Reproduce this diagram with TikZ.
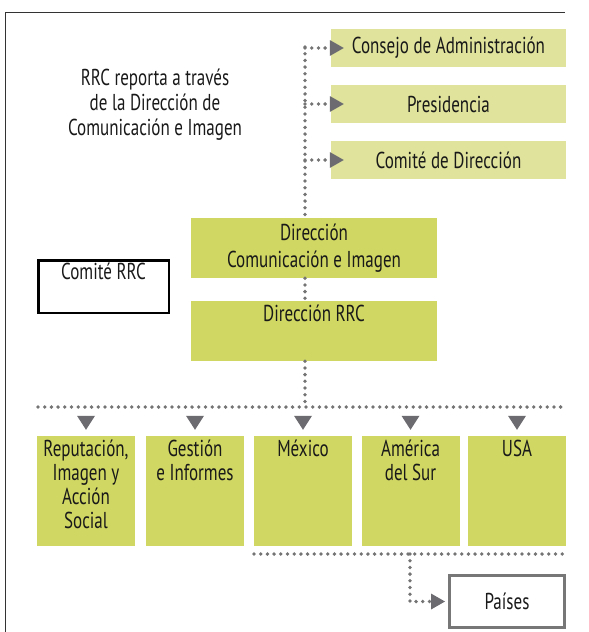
\documentclass[tikz,border=0pt]{standalone}
\usepackage{fontspec}
\setmainfont{PT Sans}[FakeStretch=0.74]
\usetikzlibrary{arrows.meta}
\definecolor{paleolive}{HTML}{DFE39B}
\definecolor{olive}{HTML}{D0D762}
\definecolor{dotgray}{HTML}{747474}
\definecolor{tipgray}{HTML}{6B6B70}
\definecolor{boxgray}{HTML}{777777}

\begin{document}
\begin{tikzpicture}[x=1pt, y=-1pt,
  every node/.style={font=\fontsize{23}{24}\selectfont, inner sep=0pt, text=black!90},
  pale/.style={fill=paleolive, minimum width=235pt, minimum height=38pt},
  dirbox/.style={fill=olive, minimum width=246pt, minimum height=60pt},
  unit/.style={fill=olive, minimum width=98pt, minimum height=110pt},
  toptext/.style={label={[anchor=north, align=center, yshift=-4pt]north:{#1}}},
  dots/.style={draw=dotgray, line width=3.8pt, line cap=round, dash pattern=on 0pt off 6.7pt},
  tip/.style={dots, -{Triangle[length=14pt, width=16pt, color=tipgray, line width=0pt]}},
  drop/.style={draw=tipgray, line width=0.1pt, -{Triangle[length=14pt, width=18pt, color=tipgray, line width=0pt]}}
]
\useasboundingbox (0,0) rectangle (589,632);

% frame
\draw[line width=1.5pt, black!80] (5.7,632) -- (5.7,12.3) -- (565,12.3);

\node[pale] (n1) at (448.5,48) {Consejo de Administración};
\node[pale] (n2) at (448.5,104) {Presidencia};
\node[pale] (n3) at (448.5,160) {Comité de Dirección};
\node[align=center, font=\fontsize{23}{25}\selectfont] (n4) at (155,105) {RRC reporta a través\\ de la Dirección de\\ Comunicación e Imagen};

\node[dirbox, align=center, font=\fontsize{23}{27}\selectfont] (n5) at (314,248) {Dirección\\ Comunicación e Imagen};
\node[dirbox, toptext={Dirección RRC}] (n6) at (314,331) {};
\node[draw=black, line width=2.5pt, minimum width=130.5pt, minimum height=52.5pt,
  toptext={Comité RRC}] (n7) at (103.5,286.5) {};

\node[unit, toptext={Reputación,\\ Imagen y\\ Acción\\ Social}] (n8) at (86,491) {};
\node[unit, toptext={Gestión\\ e Informes}] (n9) at (195,491) {};
\node[unit, toptext={México}] (n10) at (303,491) {};
\node[unit, toptext={América\\ del Sur}] (n11) at (410.5,491) {};
\node[unit, toptext={USA}] (n12) at (517,491) {};

\node[draw=boxgray, line width=3pt, minimum width=115pt, minimum height=52pt] (n13) at (507,601.5) {Países};

\coordinate (c1) at (305,47);
\coordinate (c2) at (38,407);
\coordinate (c3) at (566,407);
\coordinate (c4) at (254,554);
\coordinate (c5) at (566,554);
\coordinate (c6) at (410,554);

% reporting line
\draw[dots] (c1) -- (c1 |- n5.north);
\draw[dots] (c1 |- n5.south) -- (c1 |- n6.north);
\draw[dots] (c1 |- n6.south) -- (c1 |- c2);
\foreach \n in {n1,n2,n3}
  \draw[tip, shorten >=-13pt] (c1 |- \n.west) -- (\n.west);

% units
\draw[dots] (c2) -- (c3);
\foreach \n in {n8,n9,n10,n11,n12}
  \draw[drop, shorten <=10pt, shorten >=6pt] (\n.north |- c2) -- (\n.north);

% countries
\draw[dots] (c4) -- (c5);
\draw[tip, shorten >=3pt] (c6) |- (n13.west);
\end{tikzpicture}
\end{document}
